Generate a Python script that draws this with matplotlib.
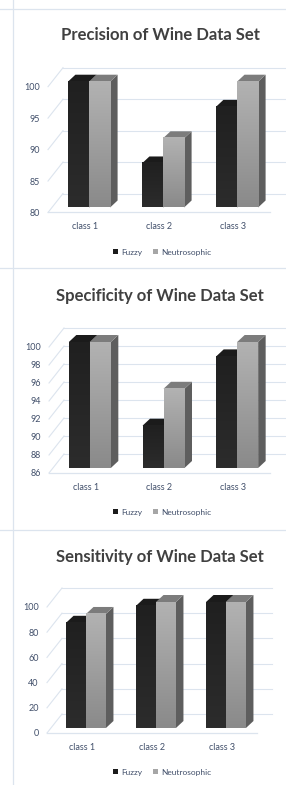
import numpy as np
import matplotlib
matplotlib.use("Agg")
import matplotlib.pyplot as plt
from matplotlib.colors import LinearSegmentedColormap
from matplotlib.patches import Polygon, Rectangle
from matplotlib.lines import Line2D

plt.rcParams['font.family'] = ['Lato', 'DejaVu Sans']

categories = ["class 1", "class 2", "class 3"]
series_names = ["Fuzzy", "Neutrosophic"]

precision_fuzzy = [100, 87, 96]
precision_neutro = [100, 91, 100]
specificity_fuzzy = [100, 90.7, 98.4]
specificity_neutro = [100, 94.8, 100]
sensitivity_fuzzy = [83.5, 97, 100]
sensitivity_neutro = [90.5, 100, 100]

W, H = 286, 785
fig = plt.figure(figsize=(W / 100, H / 100), dpi=100)
fig.patch.set_facecolor("white")

GRID = "#dce4ee"
TICK = "#42506b"

fuzzy_cmap = LinearSegmentedColormap.from_list("fz", ["#2c2c2c", "#202020"])
neutro_cmap = LinearSegmentedColormap.from_list("nt", ["#8a8a8a", "#b2b2b2"])


def draw_bar(ax, x0, x1, base, top, dx, dy, cmap, top_c, side_c, z):
    side = Polygon([(x1, base), (x1 + dx, base + dy), (x1 + dx, top + dy), (x1, top)],
                   closed=True, fc=side_c, ec="none", zorder=z, clip_on=False)
    lid = Polygon([(x0, top), (x1, top), (x1 + dx, top + dy), (x0 + dx, top + dy)],
                  closed=True, fc=top_c, ec="none", zorder=z, clip_on=False)
    ax.add_patch(side)
    ax.add_patch(lid)
    grad = np.linspace(0, 1, 64).reshape(-1, 1)
    im = ax.imshow(grad, cmap=cmap, origin="lower", extent=(x0, x1, base, top),
                   aspect="auto", zorder=z + 0.5, interpolation="bilinear")
    im.set_clip_on(False)


def panel(box, ylim, ticks, fuzzy, neutro, title, title_y, legend_y):
    left, right, top, bottom = box
    ax = fig.add_axes([left / W, 1 - bottom / H, (right - left) / W, (bottom - top) / H])
    xlim = (-0.5, 2.5)
    ax.set_xlim(*xlim)
    ax.set_ylim(*ylim)
    for s in ax.spines.values():
        s.set_visible(False)
    ax.set_facecolor("none")
    ax.set_yticks(ticks)
    ax.set_yticklabels([str(t) for t in ticks])
    ax.set_xticks(range(len(categories)))
    ax.set_xticklabels(categories)
    ax.tick_params(axis="y", length=0, pad=6, labelsize=6.5, labelcolor=TICK)
    ax.tick_params(axis="x", length=0, pad=7, labelsize=6.5, labelcolor=TICK)

    sx = (xlim[1] - xlim[0]) / (right - left)
    sy = (ylim[1] - ylim[0]) / (bottom - top)
    wx, wy = 15 * sx, 19 * sy      # wall depth
    ox, oy = 4 * sx, 5 * sy        # bar front offset
    bx, by = 7.5 * sx, 7 * sy      # bar depth

    # walls and floor
    for t in ticks:
        ax.add_line(Line2D([xlim[0], xlim[0] + wx], [t, t + wy], color=GRID, lw=0.8,
                           zorder=1, clip_on=False))
        ax.add_line(Line2D([xlim[0] + wx, xlim[1] + wx], [t + wy, t + wy], color=GRID,
                           lw=0.8, zorder=1, clip_on=False))
    ax.add_line(Line2D([xlim[0], xlim[1]], [ylim[0], ylim[0]], color=GRID, lw=0.9,
                       zorder=1, clip_on=False))

    w = 0.285
    for i in range(len(categories)):
        xa = i - w + ox
        draw_bar(ax, xa, xa + w, ylim[0] + oy, fuzzy[i] + oy, bx, by,
                 fuzzy_cmap, "#1b1b1b", "#161616", 3 + i)
        xb = i + ox
        draw_bar(ax, xb, xb + w, ylim[0] + oy, neutro[i] + oy, bx, by,
                 neutro_cmap, "#7c7c7c", "#5e5e5e", 3.7 + i)

    fig.text(160 / W, 1 - title_y / H, title, ha="center", va="center",
             fontsize=12, fontweight="bold", color="#404040")
    handles = [Rectangle((0, 0), 1, 1, fc="#1b1b1b", ec="none"),
               Rectangle((0, 0), 1, 1, fc="#a6a6a6", ec="none")]
    ax.legend(handles, series_names, loc="center", ncol=2, frameon=False,
              bbox_to_anchor=(162 / W, 1 - legend_y / H), bbox_transform=fig.transFigure,
              fontsize=6, handlelength=0.6, handleheight=0.6, handletextpad=0.4,
              columnspacing=1.2, labelcolor=TICK)
    ax.set_xlim(*xlim)
    ax.set_ylim(*ylim)


panel((48, 270, 86.7, 212.5), (80, 100), [80, 85, 90, 95, 100],
      precision_fuzzy, precision_neutro, "Precision of Wine Data Set", 35, 252)
panel((49, 270, 347, 473), (86, 100), [86, 88, 90, 92, 94, 96, 98, 100],
      specificity_fuzzy, specificity_neutro, "Specificity of Wine Data Set", 296, 512)
panel((47, 257, 607, 733), (0, 100), [0, 20, 40, 60, 80, 100],
      sensitivity_fuzzy, sensitivity_neutro, "Sensitivity of Wine Data Set", 557, 772)

# panel frame lines
for yy in [9, 268, 530]:
    fig.add_artist(Line2D([0, 1], [1 - yy / H, 1 - yy / H], color=GRID, lw=0.9,
                          transform=fig.transFigure))
fig.add_artist(Line2D([12.5 / W, 12.5 / W], [0, 1], color=GRID, lw=0.9,
                      transform=fig.transFigure))

fig.savefig("out.png", dpi=100, facecolor="white")
